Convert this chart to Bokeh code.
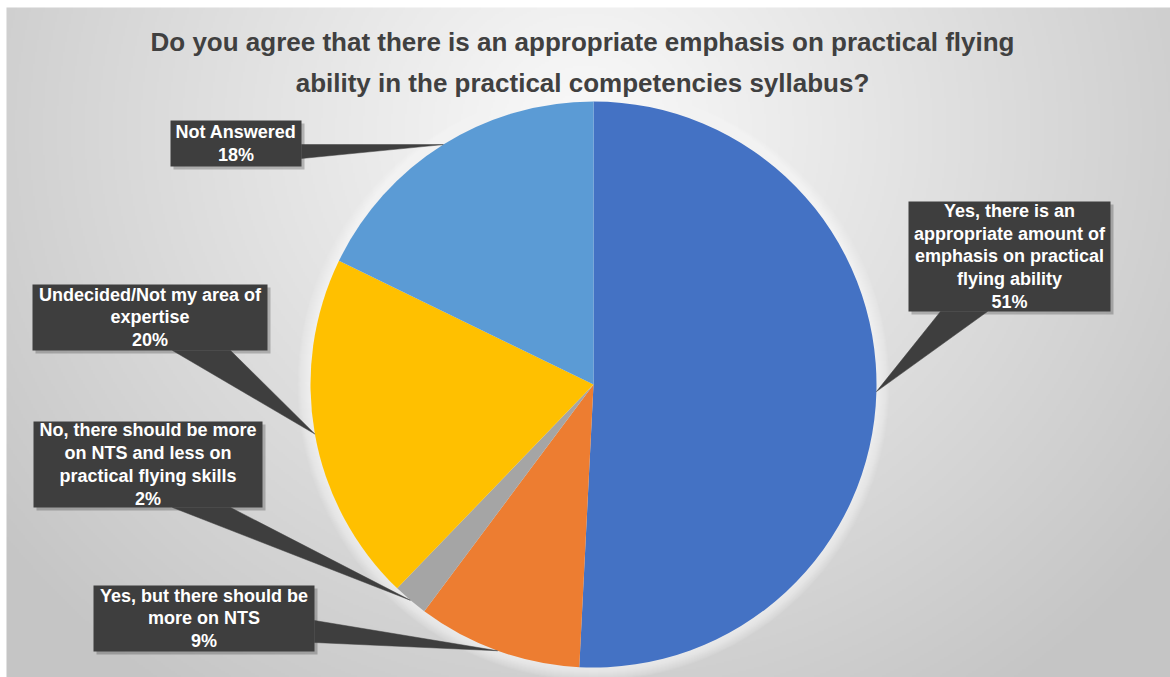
import numpy as np
from bokeh.plotting import figure
from bokeh.models import Range1d, ColumnDataSource
from bokeh.core.properties import value
from bokeh.embed import file_html
from bokeh.resources import INLINE

# ---------------- data ----------------
title_lines = [
    "Do you agree that there is an appropriate emphasis on practical flying",
    "ability in the practical competencies syllabus?",
]
categories = [
    "Yes, there is an\nappropriate amount of\nemphasis on practical\nflying ability",
    "Yes, but there should be\nmore on NTS",
    "No, there should be more\non NTS and less on\npractical flying skills",
    "Undecided/Not my area of\nexpertise",
    "Not Answered",
]
shares = [50.8, 9.4, 2.0, 20.0, 17.8]
colors = ["#4472C4", "#ED7D31", "#A5A5A5", "#FFC000", "#5B9BD5"]

# ---------------- layout (page pixel coords) ----------------
W, H = 1170, 677


def px(X):
    return X


def py(Y):
    return H - Y


CX, CY, R = 593, 384, 283
boxes = [(908, 201, 1110, 311), (93, 585, 314, 651), (33, 421, 262, 507),
         (32, 284, 267, 350), (170, 120, 301, 166)]
bases = [((940, 311), (987, 311)), ((314, 620), (314, 642)), ((172, 507), (230, 507)),
         ((172, 350), (230, 350)), ((301, 144), (301, 158))]

p = figure(width=W, height=H, x_range=Range1d(0, W), y_range=Range1d(0, H),
           output_backend="svg", toolbar_location=None, min_border=0)
p.axis.visible = False
p.grid.visible = False
p.outline_line_color = None
p.background_fill_color = "white"
p.border_fill_color = "white"

# background radial gradient (chart area starts at x=6, y=7)
AX0, AY0 = 6, 7
aw, ah = W - AX0, H - AY0
nx, ny = aw // 2, ah // 2 + 1
xs = AX0 + (np.arange(nx) + 0.5) * aw / nx
ys = (np.arange(ny) + 0.5) * ah / ny          # data y (bottom up)
XX, YY = np.meshgrid(xs, ys)
PX = XX
PY = H - YY
t = np.sqrt(((PX - 585) / 640.0) ** 2 + ((PY - 130) / 600.0) ** 2)
t = np.clip(t, 0, 1.15)
g = np.clip(250 - 46 * t, 0, 255).astype(np.uint8)
img = np.empty((ny, nx), dtype=np.uint32)
view = img.view(dtype=np.uint8).reshape((ny, nx, 4))
view[:, :, 0] = g
view[:, :, 1] = g
view[:, :, 2] = g
view[:, :, 3] = 255
p.image_rgba(image=[img], x=AX0, y=0, dw=aw, dh=ah)

# glow around pie
for k in range(1, 14):
    p.circle(x=px(CX), y=py(CY), radius=R + k, fill_color="white",
             fill_alpha=0.07, line_color=None)

# pie
vals = np.array(shares, dtype=float)
frac = vals / vals.sum()
cum = np.concatenate([[0], np.cumsum(frac)])
start = np.pi / 2 - 2 * np.pi * cum[:-1]
end = np.pi / 2 - 2 * np.pi * cum[1:]
src = ColumnDataSource(dict(start=start, end=end, color=colors))
p.wedge(x=px(CX), y=py(CY), radius=R, start_angle="start", end_angle="end",
        direction="clock", fill_color="color", line_color=None, source=src)

# callouts
mid = (cum[:-1] + cum[1:]) / 2
theta = 2 * np.pi * mid
tipX = CX + R * np.sin(theta)
tipY = CY - R * np.cos(theta)

box_col = "#3e3e3e"
for i, (l, tp, r, b) in enumerate(boxes):
    p.quad(left=px(l) + 3, right=px(r) + 3, top=py(tp) - 3, bottom=py(b) - 3,
           fill_color="black", fill_alpha=0.22, line_color=None)
for i, (l, tp, r, b) in enumerate(boxes):
    (x1, y1), (x2, y2) = bases[i]
    p.patch(x=[px(x1), px(x2), px(tipX[i])], y=[py(y1), py(y2), py(tipY[i])],
            fill_color=box_col, line_color=box_col, line_width=0.5)
    p.quad(left=px(l), right=px(r), top=py(tp), bottom=py(b),
           fill_color=box_col, line_color=None)

lab_x = [px((b[0] + b[2]) / 2) for b in boxes]
lab_y = [py((b[1] + b[3]) / 2) for b in boxes]
lab_text = [f"{c}\n{round(v)}%" for c, v in zip(categories, shares)]
p.text(x=lab_x, y=lab_y, text=lab_text, text_align="center", text_baseline="middle",
       text_font=value("Liberation Sans"), text_font_style="bold",
       text_font_size="18px", text_color="white", text_line_height=1.14)

# title
p.text(x=[px(582)], y=[py(62)], text=["\n".join(title_lines)], text_align="center",
       text_baseline="middle", text_font=value("Liberation Sans"),
       text_font_style="bold", text_font_size="26px", text_color="#404040",
       text_line_height=1.38)

open("out.html", "w").write(file_html(p, INLINE))
